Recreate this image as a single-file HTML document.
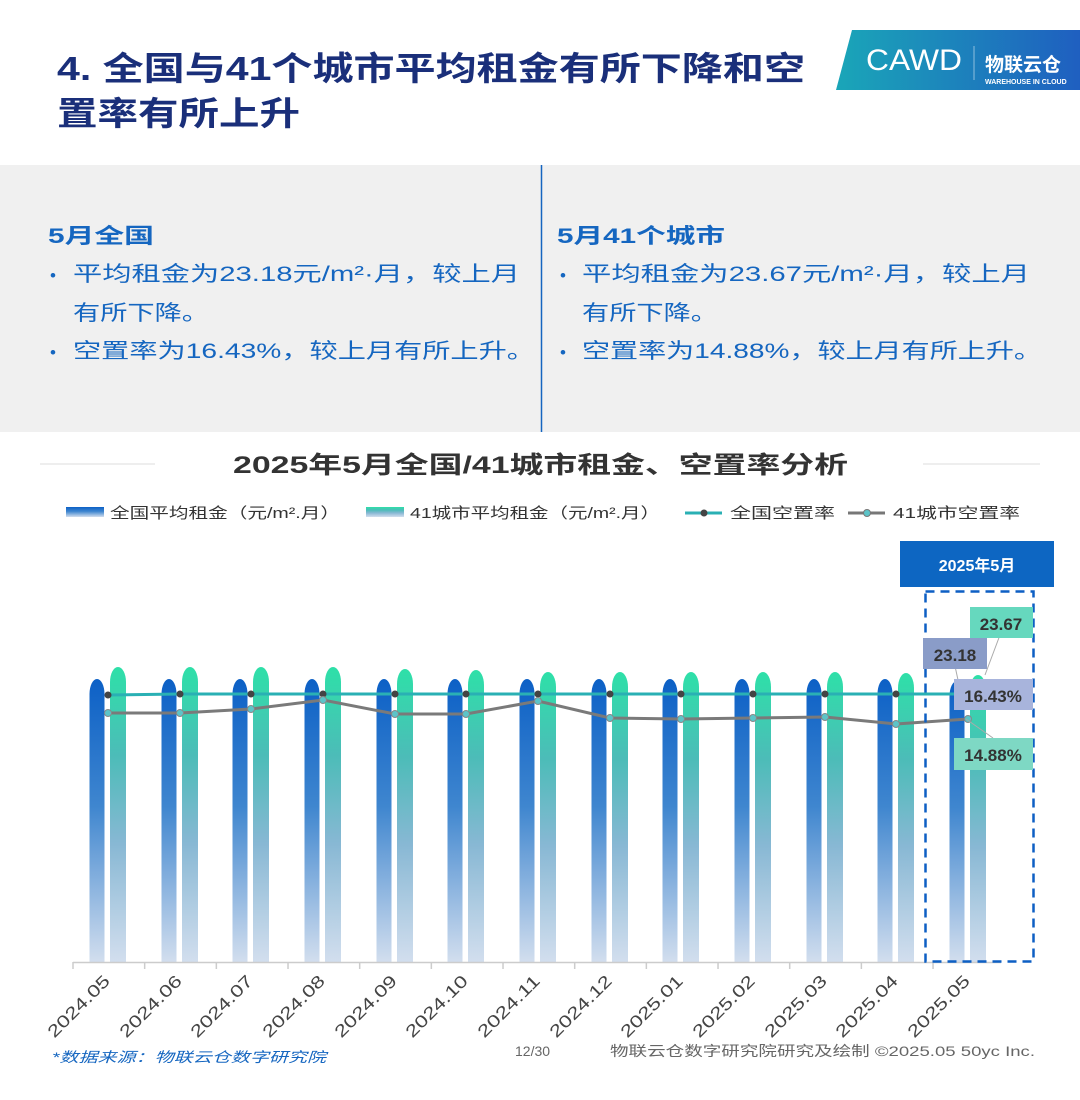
<!DOCTYPE html>
<html><head><meta charset="utf-8"><style>
html,body{margin:0;padding:0;background:#fff;width:1080px;height:1100px;overflow:hidden}
svg{display:block}
text{font-family:"Liberation Sans","Noto Sans CJK SC",sans-serif}
</style></head><body>
<svg width="1080" height="1100" viewBox="0 0 1080 1100" xmlns="http://www.w3.org/2000/svg">
<defs>
<linearGradient id="gb" x1="0" y1="0" x2="0" y2="1">
<stop offset="0" stop-color="#0c60c6"/><stop offset="0.45" stop-color="#3f86cf"/><stop offset="1" stop-color="#d2deee"/></linearGradient>
<linearGradient id="gg" x1="0" y1="0" x2="0" y2="1">
<stop offset="0" stop-color="#2ee0a8"/><stop offset="0.3" stop-color="#4cbcb8"/><stop offset="0.6" stop-color="#88b8d4"/><stop offset="1" stop-color="#d2deee"/></linearGradient>
<linearGradient id="lg" x1="0" y1="0" x2="1" y2="0">
<stop offset="0" stop-color="#1aa6b8"/><stop offset="1" stop-color="#1f5fc0"/></linearGradient>
</defs>
<text x="57" y="80" font-size="33" font-weight="bold" fill="#1a2f7a" textLength="748" lengthAdjust="spacingAndGlyphs">4. 全国与41个城市平均租金有所下降和空</text>
<text x="57" y="125" font-size="33" font-weight="bold" fill="#1a2f7a" textLength="243" lengthAdjust="spacingAndGlyphs">置率有所上升</text>
<polygon points="852,30 1080,30 1080,90 836,90" fill="url(#lg)"/>
<text x="866" y="70" font-size="30" fill="#fff" textLength="96" lengthAdjust="spacingAndGlyphs">CAWD</text>
<line x1="974" y1="46" x2="974" y2="80" stroke="#fff" stroke-opacity="0.5"/>
<text x="985" y="71" font-size="19" font-weight="bold" fill="#fff">物联云仓</text>
<text x="985" y="84" font-size="7" font-weight="bold" fill="#fff">WAREHOUSE IN CLOUD</text>
<rect x="0" y="165" width="1080" height="267" fill="#f0f0f0"/>
<line x1="541.5" y1="165" x2="541.5" y2="432" stroke="#1565c0" stroke-width="1.5"/>
<g fill="#1566c0" font-size="21">
<text x="48" y="243" font-weight="bold" textLength="106" lengthAdjust="spacingAndGlyphs">5月全国</text>
<text x="50" y="281" font-size="17">•</text>
<text x="73" y="281" textLength="447" lengthAdjust="spacingAndGlyphs">平均租金为23.18元/m²·月，较上月</text>
<text x="73" y="320" textLength="136" lengthAdjust="spacingAndGlyphs">有所下降。</text>
<text x="50" y="358" font-size="17">•</text>
<text x="73" y="358" textLength="462" lengthAdjust="spacingAndGlyphs">空置率为16.43%，较上月有所上升。</text>
<text x="557" y="243" font-weight="bold" textLength="168" lengthAdjust="spacingAndGlyphs">5月41个城市</text>
<text x="560" y="281" font-size="17">•</text>
<text x="582" y="281" textLength="448" lengthAdjust="spacingAndGlyphs">平均租金为23.67元/m²·月，较上月</text>
<text x="582" y="320" textLength="136" lengthAdjust="spacingAndGlyphs">有所下降。</text>
<text x="560" y="358" font-size="17">•</text>
<text x="582" y="358" textLength="460" lengthAdjust="spacingAndGlyphs">空置率为14.88%，较上月有所上升。</text>
</g>
<line x1="40" y1="464" x2="155" y2="464" stroke="#ddd"/>
<line x1="923" y1="464" x2="1040" y2="464" stroke="#ddd"/>
<text x="233" y="473" font-size="24" font-weight="bold" fill="#333" textLength="615" lengthAdjust="spacingAndGlyphs">2025年5月全国/41城市租金、空置率分析</text>
<rect x="66" y="507" width="38" height="10" fill="url(#gb)"/>
<text x="110" y="518" font-size="15" fill="#333" textLength="230" lengthAdjust="spacingAndGlyphs">全国平均租金（元/m².月）</text>
<rect x="366" y="507" width="38" height="10" fill="url(#gg)"/>
<text x="410" y="518" font-size="15" fill="#333" textLength="250" lengthAdjust="spacingAndGlyphs">41城市平均租金（元/m².月）</text>
<line x1="685" y1="513" x2="722" y2="513" stroke="#2ab0b4" stroke-width="3"/><circle cx="704" cy="513" r="3.5" fill="#444"/>
<text x="730" y="518" font-size="15" fill="#333" textLength="105" lengthAdjust="spacingAndGlyphs">全国空置率</text>
<line x1="848" y1="513" x2="885" y2="513" stroke="#777" stroke-width="3"/><circle cx="867" cy="513" r="3.5" fill="#5cc4c8" stroke="#777"/>
<text x="893" y="518" font-size="15" fill="#333" textLength="127" lengthAdjust="spacingAndGlyphs">41城市空置率</text>
<g id="bars"></g>
<line x1="73" y1="962.5" x2="1001" y2="962.5" stroke="#ccc" stroke-width="1.5"/>
<g id="ticks" stroke="#ccc" stroke-width="1.5"></g>
<g id="labels" font-size="17" fill="#444"></g>
<polyline id="l1" fill="none" stroke="#2ab0b4" stroke-width="3"/>
<polyline id="l2" fill="none" stroke="#7a7a7a" stroke-width="3"/>
<g id="dots"></g>
<rect x="900" y="541" width="154" height="46" fill="#0d66c2"/>
<text x="977" y="571" font-size="16" font-weight="bold" fill="#fff" text-anchor="middle">2025年5月</text>
<rect x="925.5" y="591.5" width="108" height="370" fill="none" stroke="#0d5fc4" stroke-width="2.5" stroke-dasharray="9,6"/>
<line x1="985" y1="675" x2="1000" y2="635" stroke="#aaa"/>
<line x1="955" y1="666" x2="958" y2="680" stroke="#aaa"/>
<line x1="966" y1="719" x2="993" y2="738" stroke="#aaa"/>
<rect x="970" y="607" width="63" height="31" fill="#66d8be"/>
<text x="1001" y="630" font-size="17" font-weight="bold" fill="#333" text-anchor="middle">23.67</text>
<rect x="923" y="638" width="64" height="31" fill="#8a9cc8"/>
<text x="955" y="661" font-size="17" font-weight="bold" fill="#333" text-anchor="middle">23.18</text>
<rect x="954" y="679" width="79" height="31" fill="#a8b4dc"/>
<text x="993" y="702" font-size="17" font-weight="bold" fill="#333" text-anchor="middle">16.43%</text>
<rect x="954" y="738" width="79" height="32" fill="#7ed8c4"/>
<text x="993" y="761" font-size="17" font-weight="bold" fill="#333" text-anchor="middle">14.88%</text>
<text x="52" y="1062" font-size="14" font-style="italic" fill="#1566c0" textLength="274" lengthAdjust="spacingAndGlyphs">*数据来源：物联云仓数字研究院</text>
<text x="515" y="1056" font-size="14" fill="#666">12/30</text>
<text x="610" y="1056" font-size="14" fill="#666" textLength="425" lengthAdjust="spacingAndGlyphs">物联云仓数字研究院研究及绘制  ©2025.05 50yc Inc.</text>
</svg>
<script>
var NS="http://www.w3.org/2000/svg";
var cs=[97,169,240,312,384,455,527,599,670,742,814,885,957];
var bt=[679,679,679,679,679,679,679,679,679,679,679,679,681];
var gt=[667,667,667,667,669,670,672,672,672,672,672,673,675];
var v2=[713,713,709,700,714,714,701,718,719,718,717,724,719];
var labs=["2024.05","2024.06","2024.07","2024.08","2024.09","2024.10","2024.11","2024.12","2025.01","2025.02","2025.03","2025.04","2025.05"];
function bar(x,w,t,f){var p=document.createElementNS(NS,"path");var ry=15;
p.setAttribute("d","M"+x+",962 V"+(t+ry)+" A"+(w/2)+","+ry+" 0 0 1 "+(x+w)+","+(t+ry)+" V962 Z");p.setAttribute("fill",f);return p;}
var B=document.getElementById("bars"),T=document.getElementById("ticks"),L=document.getElementById("labels"),D=document.getElementById("dots");
var p1=[],p2=[];
cs.forEach(function(c,i){
B.appendChild(bar(c-7.5,15,bt[i],"url(#gb)"));
B.appendChild(bar(c+13,16,gt[i],"url(#gg)"));
var tx=73+71.67*i;var l=document.createElementNS(NS,"line");l.setAttribute("x1",tx);l.setAttribute("x2",tx);l.setAttribute("y1",962);l.setAttribute("y2",969);T.appendChild(l);
var t=document.createElementNS(NS,"text");t.setAttribute("text-anchor","end");t.setAttribute("textLength","80");t.setAttribute("lengthAdjust","spacingAndGlyphs");t.setAttribute("transform","translate("+(c+14)+",982) rotate(-45)");t.textContent=labs[i];L.appendChild(t);
var dx=c+11;p1.push(dx+","+(i==0?695:694));p2.push(dx+","+v2[i]);
});
document.getElementById("l1").setAttribute("points",p1.join(" "));
document.getElementById("l2").setAttribute("points",p2.join(" "));
cs.forEach(function(c,i){var a=document.createElementNS(NS,"circle");a.setAttribute("cx",c+11);a.setAttribute("cy",i==0?695:694);a.setAttribute("r",3.5);a.setAttribute("fill","#444");D.appendChild(a);
var b=document.createElementNS(NS,"circle");b.setAttribute("cx",c+11);b.setAttribute("cy",v2[i]);b.setAttribute("r",3.5);b.setAttribute("fill","#5cc4c8");b.setAttribute("stroke","#888");D.appendChild(b);});
</script>
</body></html>
